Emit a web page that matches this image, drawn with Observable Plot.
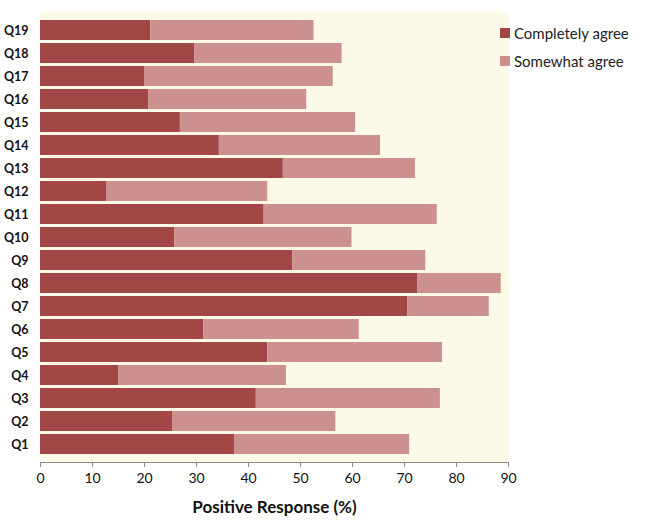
<!DOCTYPE html>
<html>
<head>
<meta charset="utf-8">
<script src="https://cdn.jsdelivr.net/npm/d3@7"></script>
<script src="https://cdn.jsdelivr.net/npm/@observablehq/plot@0.6"></script>
<style>
  html, body { margin: 0; padding: 0; background: #ffffff; }
  #wrap { position: relative; width: 654px; height: 526px; font-family: Lato, "Open Sans", sans-serif; }
  #legend { position: absolute; left: 500px; top: 19px; font-size: 15px; color: #222; }
  #legend .item { display: flex; align-items: center; height: 28px; }
  #legend .sw { width: 10px; height: 10px; margin-right: 4px; }
</style>
</head>
<body>
<div id="wrap"></div>
<script>
const questions = ["Q1","Q2","Q3","Q4","Q5","Q6","Q7","Q8","Q9","Q10","Q11","Q12","Q13","Q14","Q15","Q16","Q17","Q18","Q19"];
const completely = [37.3, 25.4, 41.5, 15.1, 43.7, 31.4, 70.6, 72.6, 48.5, 25.8, 43.0, 12.8, 46.7, 34.4, 26.9, 20.8, 20.0, 29.7, 21.2];
const somewhat   = [33.7, 31.4, 35.4, 32.2, 33.6, 29.9, 15.7, 16.0, 25.6, 34.1, 33.3, 30.9, 25.4, 31.0, 33.7, 30.4, 36.3, 28.3, 31.4];
const series = ["Completely agree", "Somewhat agree"];
const colors = ["#a24646", "#cc918e"];
const xTicks = [0, 10, 20, 30, 40, 50, 60, 70, 80, 90];
const xTitle = "Positive Response (%)";

const data = questions.flatMap((q, i) => [
  {q, s: series[0], v: completely[i]},
  {q, s: series[1], v: somewhat[i]}
]);

const chart = Plot.plot({
  width: 654,
  height: 526,
  marginLeft: 40,
  marginRight: 146,
  marginTop: 12,
  marginBottom: 64,
  style: {fontFamily: "Lato, 'Open Sans', sans-serif", fontSize: "13px", background: "#ffffff", color: "#111"},
  x: {domain: [0, 90], ticks: xTicks, label: null},
  y: {domain: questions.slice().reverse(), padding: 0.12, label: null},
  color: {domain: series, range: colors},
  marks: [
    Plot.frame({fill: "#fcfae6", stroke: null}),
    Plot.barX(data, Plot.stackX({x: "v", y: "q", fill: "s", order: series})),
    Plot.frame({anchor: "bottom", stroke: "#8a8a8a"}),
    Plot.axisX({ticks: xTicks, tickSize: 5, tickPadding: 6, stroke: "#8a8a8a", fontSize: 14, label: null}),
    Plot.axisY({tickSize: 0, tickPadding: 12, fontWeight: "bold", fontSize: 12.5, label: null}),
    Plot.text([xTitle], {frameAnchor: "bottom", dy: 50, fontSize: 17, fontWeight: "bold", fill: "#111"})
  ]
});

const wrap = document.getElementById("wrap");
wrap.appendChild(chart);
const legend = document.createElement("div");
legend.id = "legend";
series.forEach((s, i) => {
  const item = document.createElement("div");
  item.className = "item";
  const sw = document.createElement("span");
  sw.className = "sw";
  sw.style.background = colors[i];
  const t = document.createElement("span");
  t.textContent = s;
  item.appendChild(sw);
  item.appendChild(t);
  legend.appendChild(item);
});
wrap.appendChild(legend);
</script>
</body>
</html>
